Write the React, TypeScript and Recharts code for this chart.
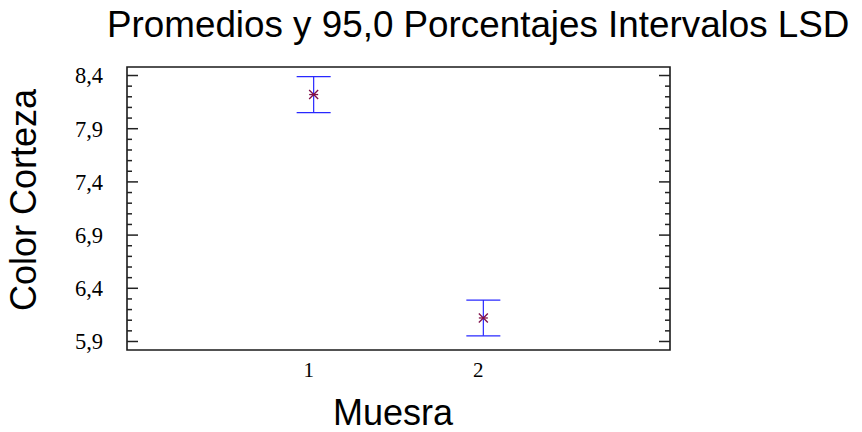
import { ComposedChart, Scatter, XAxis, YAxis, ErrorBar, ReferenceArea } from "recharts";

// LSD means plot: two levels of "Muesra"
const categories = [1, 2];
const means = [8.221, 6.121];
const lsdHalf = [0.169, 0.168];
const yMajorTicks = [5.9, 6.4, 6.9, 7.4, 7.9, 8.4];
const xTickLabels = ["1", "2"];

const yDomain: [number, number] = [5.82, 8.48];
const xDomain: [number, number] = [-0.1, 3.1];

const data = categories.map((c, i) => ({ x: c, y: means[i], err: lsdHalf[i] }));

// minor ticks every 0.1 between the labelled ones
const yMinorTicks = Array.from({ length: 26 }, (_, i) => Math.round((yMajorTicks[0] + i * 0.1) * 10) / 10);

const isMajor = (v: number) => yMajorTicks.some((t) => Math.abs(t - v) < 1e-6);
const fmt = (v: number) => v.toFixed(1).replace(".", ",");

const SERIF = "'Liberation Serif', 'Times New Roman', serif";
const SANS = "'Liberation Sans', Arial, sans-serif";

function LeftTick(props: any) {
  const { x, y, payload } = props;
  const major = isMajor(payload.value);
  return (
    <g>
      <line x1={x} x2={x + (major ? 11 : 5)} y1={y} y2={y} stroke="#222" strokeWidth={1.5} />
      {major && (
        <text x={x - 24} y={y} dy="0.35em" textAnchor="end" fontFamily={SERIF} fontSize={22.5} fill="#000">
          {fmt(payload.value)}
        </text>
      )}
    </g>
  );
}

function RightTick(props: any) {
  const { x, y, payload } = props;
  const major = isMajor(payload.value);
  return <line x1={x} x2={x - (major ? 11 : 5)} y1={y} y2={y} stroke="#222" strokeWidth={1.5} />;
}

function BottomTick(props: any) {
  const { x, y, payload } = props;
  const idx = categories.indexOf(payload.value);
  return (
    <text x={x - 5} y={y + 27} textAnchor="middle" fontFamily={SERIF} fontSize={21} fill="#000">
      {xTickLabels[idx]}
    </text>
  );
}

function Asterisk(props: any) {
  const { cx, cy } = props;
  const r = 4.5;
  const c = "#80104a";
  return (
    <g stroke={c} strokeWidth={1.3}>
      <line x1={cx - r} y1={cy - r} x2={cx + r} y2={cy + r} />
      <line x1={cx - r} y1={cy + r} x2={cx + r} y2={cy - r} />
      <line x1={cx - r} y1={cy} x2={cx + r} y2={cy} />
    </g>
  );
}

export default function App() {
  return (
    <div style={{ position: "absolute", left: 0, top: 0, width: 862, height: 432, background: "#fff" }}>
      <ComposedChart width={862} height={432} data={data} margin={{ top: 67, right: 0, bottom: 0, left: 0 }}>
        <XAxis
          dataKey="x"
          type="number"
          domain={xDomain}
          ticks={categories}
          height={82}
          axisLine={false}
          tickLine={false}
          tickSize={0}
          tickMargin={0}
          tick={<BottomTick />}
          allowDataOverflow
        />
        <YAxis
          yAxisId="L"
          type="number"
          domain={yDomain}
          ticks={yMinorTicks}
          width={127}
          axisLine={false}
          tickLine={false}
          tickSize={0}
          tickMargin={0}
          tick={<LeftTick />}
          interval={0}
          allowDataOverflow
        />
        <YAxis
          yAxisId="R"
          orientation="right"
          type="number"
          domain={yDomain}
          ticks={yMinorTicks}
          width={192}
          axisLine={false}
          tickLine={false}
          tickSize={0}
          tickMargin={0}
          tick={<RightTick />}
          interval={0}
          allowDataOverflow
        />
        <ReferenceArea
          yAxisId="L"
          x1={xDomain[0]}
          x2={xDomain[1]}
          y1={yDomain[0]}
          y2={yDomain[1]}
          fill="none"
          stroke="#1a1a1a"
          strokeWidth={1.6}
          ifOverflow="visible"
        />
        <Scatter yAxisId="L" dataKey="y" shape={<Asterisk />} isAnimationActive={false}>
          <ErrorBar dataKey="err" direction="y" width={17} stroke="#2828ff" strokeWidth={1.2} isAnimationActive={false} />
        </Scatter>
        <Scatter yAxisId="R" dataKey="y" shape={() => <g />} isAnimationActive={false} />
      </ComposedChart>
      <svg width={862} height={432} style={{ position: "absolute", left: 0, top: 0, pointerEvents: "none" }}>
        <text x={107} y={37} fontFamily={SANS} fontSize={36.8} fill="#000">
          Promedios y 95,0 Porcentajes Intervalos LSD
        </text>
        <text
          x={0}
          y={0}
          transform="translate(36 200) rotate(-90)"
          textAnchor="middle"
          fontFamily={SANS}
          fontSize={36}
          fill="#000"
        >
          Color Corteza
        </text>
        <text x={393} y={425} textAnchor="middle" fontFamily={SANS} fontSize={36} fill="#000">
          Muesra
        </text>
      </svg>
    </div>
  );
}
